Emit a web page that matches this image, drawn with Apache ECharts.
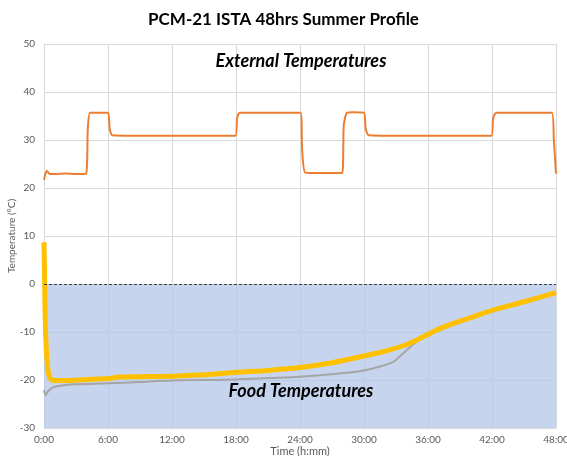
<!DOCTYPE html>
<html>
<head>
<meta charset="utf-8">
<title>PCM-21 ISTA 48hrs Summer Profile</title>
<script src="https://cdn.jsdelivr.net/npm/echarts@6/dist/echarts.min.js"></script>
<style>
  html, body {margin: 0; padding: 0; background: #fff;}
  #chart {width: 567px; height: 456px;}
</style>
</head>
<body>
<div id="chart"></div>
<script>
// time in hours, values in °C
var extTime = [0, 0.25, 0.55, 1, 2, 3, 3.95, 4.1, 4.3, 5, 6.0, 6.15, 6.4, 9, 12, 15, 17.95, 18.1, 18.35, 21, 24.05, 24.2, 24.5, 26, 27.95, 28.1, 28.4, 29, 30.0, 30.15, 30.45, 33, 36, 39, 41.95, 42.1, 42.4, 45, 47.6, 47.8, 48];
var extTemp = [21.7, 23.6, 22.9, 22.9, 23.0, 22.9, 23.0, 32.0, 35.7, 35.7, 35.7, 32.5, 31.0, 30.9, 30.9, 30.9, 30.9, 34.5, 35.7, 35.7, 35.7, 28.0, 23.2, 23.1, 23.1, 33.0, 35.7, 35.8, 35.7, 32.5, 31.0, 30.9, 30.9, 30.9, 30.9, 34.5, 35.7, 35.7, 35.7, 30.0, 23.0];

var foodTime = [0, 0.05, 0.1, 0.2, 0.35, 0.5, 0.75, 1, 2, 4, 6, 7, 9, 12, 15, 18, 21, 24, 27, 30, 32, 34, 35, 36, 37, 38, 40, 42, 45, 48];
var foodTemp = [8.7, 2, -6, -13, -17.5, -19.3, -20, -20.1, -20.1, -19.9, -19.7, -19.4, -19.3, -19.2, -18.9, -18.4, -18.0, -17.4, -16.4, -15.0, -14.0, -12.6, -11.6, -10.5, -9.4, -8.5, -7.0, -5.5, -3.7, -1.8];

var coreTime = [0, 0.15, 0.4, 0.8, 1.5, 3, 6, 9, 12, 15, 18, 21, 24, 27, 30, 31.5, 32.7, 33.5, 34.3, 35, 36, 37, 38, 40, 42, 45, 48];
var coreTemp = [-22.1, -23.1, -22.3, -21.6, -21.2, -20.9, -20.7, -20.4, -20.1, -20.0, -19.9, -19.6, -19.3, -18.8, -18.0, -17.2, -16.3, -14.8, -13.2, -11.9, -10.7, -9.6, -8.7, -7.2, -5.7, -3.9, -2.0];

function pairs(t, v) {
  return t.map(function (x, i) { return [x, v[i]]; });
}

var chart = echarts.init(document.getElementById('chart'));
var font = 'Lato';

chart.setOption({
  animation: false,
  backgroundColor: '#fff',
  textStyle: {fontFamily: font},
  title: {
    text: 'PCM-21 ISTA 48hrs Summer Profile',
    left: 'center',
    top: 6,
    textStyle: {fontFamily: font, fontSize: 17, fontWeight: 'bold', color: '#000'}
  },
  grid: {left: 44, right: 11, top: 44, bottom: 28, outerBoundsMode: 'none'},
  xAxis: {
    type: 'value',
    min: 0, max: 48, interval: 6,
    name: 'Time (h:mm)',
    nameLocation: 'middle',
    nameGap: 23,
    nameMoveOverlap: false,
    nameTextStyle: {fontSize: 11, color: '#595959', verticalAlign: 'middle'},
    axisLine: {lineStyle: {color: '#d9d9d9'}},
    axisTick: {show: false},
    axisLabel: {
      fontSize: 10, color: '#595959', margin: 7,
      formatter: function (v) { return v + ':00'; }
    },
    splitLine: {show: true, lineStyle: {color: '#d9d9d9'}}
  },
  yAxis: {
    type: 'value',
    min: -30, max: 50, interval: 10,
    name: 'Temperature (°C)',
    nameLocation: 'middle',
    nameGap: 32,
    nameMoveOverlap: false,
    nameTextStyle: {fontSize: 10, color: '#595959', verticalAlign: 'middle'},
    axisLine: {show: true, lineStyle: {color: '#d9d9d9'}},
    axisTick: {show: false},
    axisLabel: {fontSize: 10, color: '#595959', margin: 9},
    splitLine: {lineStyle: {color: '#d9d9d9'}}
  },
  graphic: [
    {type: 'text', x: 301, y: 61, z: 10,
     style: {text: 'External Temperatures', align: 'center', verticalAlign: 'middle',
             font: 'italic bold 18px Lato', fill: '#000'}},
    {type: 'text', x: 301, y: 391, z: 10,
     style: {text: 'Food Temperatures', align: 'center', verticalAlign: 'middle',
             font: 'italic bold 18px Lato', fill: '#000'}}
  ],
  series: [
    {
      type: 'line', data: [], silent: true, z: 1,
      markArea: {
        silent: true,
        itemStyle: {color: 'rgba(180,198,231,0.75)'},
        data: [[{yAxis: -30}, {yAxis: 0}]]
      },
      markLine: {
        silent: true, symbol: 'none', label: {show: false},
        lineStyle: {color: '#404040', type: [3, 2], width: 1.2},
        data: [{yAxis: 0}]
      }
    },
    {
      name: 'External', type: 'line', data: pairs(extTime, extTemp),
      showSymbol: false, smooth: 0.2, z: 3,
      lineStyle: {color: '#ed7d31', width: 2}
    },
    {
      name: 'Core', type: 'line', data: pairs(coreTime, coreTemp),
      showSymbol: false, smooth: 0.3, z: 3,
      lineStyle: {color: '#a5a5a5', width: 2}
    },
    {
      name: 'Food', type: 'line', data: pairs(foodTime, foodTemp),
      showSymbol: false, smooth: 0.3, z: 4,
      lineStyle: {color: '#ffc000', width: 5}
    }
  ]
});
</script>
</body>
</html>
